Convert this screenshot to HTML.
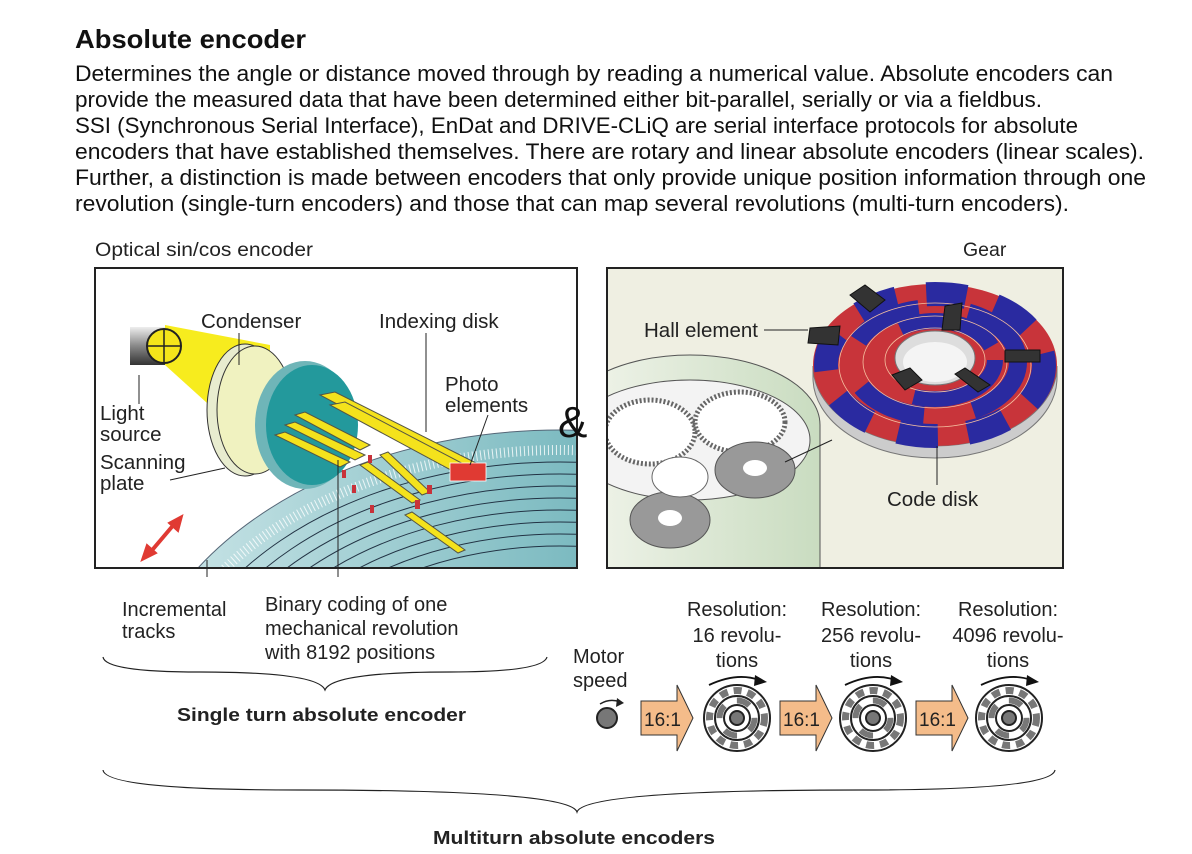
<!DOCTYPE html>
<html><head><meta charset="utf-8"><style>
html,body{margin:0;background:#fff;overflow:hidden;width:1192px;height:854px;}
svg{display:block;font-family:"Liberation Sans",Arial,sans-serif;}
</style></head><body>
<svg width="1192" height="854" viewBox="0 0 1192 854" xmlns="http://www.w3.org/2000/svg">
<defs>
<clipPath id="cl"><rect x="96" y="269" width="480" height="298"/></clipPath>
<clipPath id="cr"><rect x="608" y="269" width="454" height="298"/></clipPath>
<linearGradient id="cyl" x1="0" y1="0" x2="0" y2="1"><stop offset="0" stop-color="#eee"/><stop offset=".5" stop-color="#888"/><stop offset="1" stop-color="#333"/></linearGradient>
<linearGradient id="disk" x1="0" y1="0" x2="1" y2="0"><stop offset="0" stop-color="#d0e8ea"/><stop offset=".5" stop-color="#7fbcc2"/><stop offset="1" stop-color="#238890"/></linearGradient>
<linearGradient id="grn" x1="0" y1="0" x2="1" y2="0"><stop offset="0" stop-color="#f4f6ee"/><stop offset="1" stop-color="#c9dcc0"/></linearGradient>
<g id="cd">
<circle r="33" fill="#fff" stroke="#222" stroke-width="2"/>
<circle r="27.5" fill="none" stroke="#777" stroke-width="7" stroke-dasharray="8 6"/>
<circle r="22" fill="none" stroke="#222" stroke-width="2"/>
<circle r="17.5" fill="none" stroke="#777" stroke-width="6" stroke-dasharray="13.7 13.7"/>
<circle r="13" fill="none" stroke="#222" stroke-width="2"/>
<circle r="7" fill="#777" stroke="#222" stroke-width="2"/>
<path d="M-28 -33 Q0 -46 22 -38" fill="none" stroke="#111" stroke-width="1.8"/>
<path d="M18 -43 L30 -36 L17 -32Z" fill="#111"/>
</g>
<g id="ar"><path d="M0 -17H36V-33L52 0L36 33V17H0Z" fill="#f4bc8a" stroke="#333" stroke-width="1"/><text x="3" y="8" font-size="19" fill="#222">16:1</text></g>
</defs>
<text x="75" y="48" font-size="26" font-weight="bold" fill="#111" textLength="231" lengthAdjust="spacingAndGlyphs">Absolute encoder</text>
<g font-size="22.5" fill="#111">
<text x="75" y="81" textLength="1038" lengthAdjust="spacingAndGlyphs">Determines the angle or distance moved through by reading a numerical value. Absolute encoders can</text>
<text x="75" y="107" textLength="967" lengthAdjust="spacingAndGlyphs">provide the measured data that have been determined either bit-parallel, serially or via a fieldbus.</text>
<text x="75" y="133" textLength="1003" lengthAdjust="spacingAndGlyphs">SSI (Synchronous Serial Interface), EnDat and DRIVE-CLiQ are serial interface protocols for absolute</text>
<text x="75" y="159" textLength="1069" lengthAdjust="spacingAndGlyphs">encoders that have established themselves. There are rotary and linear absolute encoders (linear scales).</text>
<text x="75" y="185" textLength="1071" lengthAdjust="spacingAndGlyphs">Further, a distinction is made between encoders that only provide unique position information through one</text>
<text x="75" y="211" textLength="994" lengthAdjust="spacingAndGlyphs">revolution (single-turn encoders) and those that can map several revolutions (multi-turn encoders).</text>
</g>
<g font-size="19.5" fill="#222">
<text x="95" y="256" textLength="218" lengthAdjust="spacingAndGlyphs">Optical sin/cos encoder</text>
<text x="963" y="256">Gear</text>
</g>
<!-- left image -->
<rect x="95" y="268" width="482" height="300" fill="#fff" stroke="#222" stroke-width="2"/>
<g clip-path="url(#cl)">
<ellipse cx="560" cy="730" rx="430" ry="300" fill="url(#disk)" stroke="#567" stroke-width="1"/>
<ellipse cx="560" cy="730" rx="410" ry="280" fill="none" stroke="#fff" stroke-width="10" stroke-dasharray="1 3" opacity=".8"/>
<g fill="none" stroke="#234" stroke-width="1">
<ellipse cx="560" cy="730" rx="395" ry="268"/><ellipse cx="560" cy="730" rx="380" ry="256"/>
<ellipse cx="560" cy="730" rx="365" ry="244"/><ellipse cx="560" cy="730" rx="350" ry="232"/>
<ellipse cx="560" cy="730" rx="335" ry="220"/><ellipse cx="560" cy="730" rx="320" ry="208"/>
<ellipse cx="560" cy="730" rx="305" ry="196"/><ellipse cx="560" cy="730" rx="290" ry="184"/>
</g>
<path d="M165 325 L270 345 L270 460 L165 365Z" fill="#f7ec1e"/>
<rect x="130" y="327" width="35" height="38" fill="url(#cyl)"/>
<circle cx="164" cy="346" r="17" fill="#f5e51a" stroke="#222" stroke-width="2"/>
<path d="M147 346H181M164 329V363" stroke="#222" stroke-width="1.5"/>
<ellipse cx="245" cy="410" rx="38" ry="66" fill="#e8eccf" stroke="#333"/>
<ellipse cx="255" cy="410" rx="38" ry="64" fill="#f0f2c0" stroke="#333"/>
<ellipse cx="305" cy="425" rx="50" ry="64" fill="#6fb5b8"/>
<ellipse cx="312" cy="425" rx="46" ry="60" fill="#23999c"/>
<g fill="#f4e21c" stroke="#554" stroke-width="1">
<path d="M320 395 L335 392 L480 465 L465 472Z"/><path d="M330 405 L345 402 L475 470 L460 475Z"/>
<path d="M295 415 L305 412 L370 445 L360 450Z"/><path d="M285 425 L295 422 L365 455 L355 460Z"/>
<path d="M275 435 L285 432 L350 462 L340 467Z"/>
<path d="M380 455 L388 452 L430 492 L422 495Z"/><path d="M360 465 L368 462 L420 500 L412 503Z"/>
<path d="M405 515 L412 512 L465 550 L458 553Z"/>
</g>
<rect x="450" y="463" width="36" height="18" fill="#e03a33" stroke="#fff" stroke-width=".8"/>
<g fill="#c8323a"><rect x="368" y="455" width="4" height="8"/><rect x="342" y="470" width="4" height="8"/><rect x="352" y="485" width="4" height="8"/><rect x="370" y="505" width="4" height="8"/><rect x="427" y="485" width="5" height="9"/><rect x="415" y="500" width="5" height="9"/></g>
<path d="M148 555 L176 522" stroke="#e03a33" stroke-width="4"/>
<path d="M142 560 L147 545 L156 553Z M182 516 L178 531 L169 523Z" fill="#e03a33" stroke="#e03a33" stroke-width="2"/>
</g>
<g font-size="20.5" fill="#222">
<text x="201" y="328">Condenser</text><text x="379" y="328">Indexing disk</text>
<text x="445" y="391">Photo</text><text x="445" y="412">elements</text>
<text x="100" y="420">Light</text><text x="100" y="441">source</text>
<text x="100" y="469">Scanning</text><text x="100" y="490">plate</text>
</g>
<g stroke="#222" stroke-width="1" fill="none">
<path d="M239 333V365"/><path d="M426 333V432"/><path d="M488 415L470 465"/><path d="M139 375V404"/><path d="M170 480L225 468"/>
<path d="M207 560V577"/><path d="M338 460V577"/>
</g>
<text x="558" y="437" font-size="44" fill="#111">&amp;</text>
<!-- right image -->
<rect x="607" y="268" width="456" height="300" fill="#efefe2" stroke="#222" stroke-width="2"/>
<g clip-path="url(#cr)">
<path d="M560 425 A130 70 0 0 1 820 425 V570 H560Z" fill="url(#grn)" stroke="#555"/>
<ellipse cx="690" cy="440" rx="120" ry="60" fill="#f3f3f3" stroke="#555"/>
<ellipse cx="650" cy="432" rx="45" ry="32" fill="#fff" stroke="#666" stroke-width="5" stroke-dasharray="2 2"/>
<ellipse cx="740" cy="422" rx="45" ry="30" fill="#fff" stroke="#666" stroke-width="5" stroke-dasharray="2 2"/>
<ellipse cx="755" cy="470" rx="40" ry="28" fill="#999" stroke="#555"/>
<ellipse cx="755" cy="468" rx="12" ry="8" fill="#fff"/>
<ellipse cx="670" cy="520" rx="40" ry="28" fill="#999" stroke="#555"/>
<ellipse cx="670" cy="518" rx="12" ry="8" fill="#fff"/>
<ellipse cx="680" cy="477" rx="28" ry="20" fill="#fff" stroke="#666"/>
<path d="M935 446 A122 80 0 0 0 1057 366 V378 A122 80 0 0 1 813 378 V366 A122 80 0 0 0 935 446Z" fill="#ccc" stroke="#777"/>
<ellipse cx="935" cy="365" rx="122" ry="81" fill="#c8343a"/>
<ellipse cx="935" cy="365" rx="109" ry="71" fill="none" stroke="#2a2aa0" stroke-width="24" stroke-dasharray="40 30"/>
<ellipse cx="935" cy="362" rx="83" ry="54" fill="none" stroke="#2a2aa0" stroke-width="18" stroke-dasharray="70 50"/>
<ellipse cx="935" cy="360" rx="60" ry="39" fill="none" stroke="#2a2aa0" stroke-width="16" stroke-dasharray="100 100"/>
<g fill="none" stroke="#f5c0a0" stroke-width=".8"><ellipse cx="935" cy="365" rx="96" ry="62"/><ellipse cx="935" cy="362" rx="72" ry="46"/><ellipse cx="935" cy="360" rx="50" ry="32"/></g>
<ellipse cx="935" cy="358" rx="40" ry="27" fill="#ddd" stroke="#777"/>
<ellipse cx="935" cy="362" rx="32" ry="20" fill="#f4f4f4"/>
<g fill="#333" stroke="#111">
<path d="M850 295 L865 285 L885 300 L870 312Z"/><path d="M945 306 L962 303 L960 330 L942 330Z"/>
<path d="M810 328 L840 326 L838 345 L808 343Z"/><path d="M1005 350 L1040 350 L1040 362 L1005 362Z"/>
<path d="M892 375 L910 368 L922 380 L905 390Z"/><path d="M955 374 L965 368 L990 385 L978 392Z"/>
</g>
</g>
<g stroke="#222" stroke-width="1" fill="none"><path d="M764 330H808"/><path d="M937 446V485"/><path d="M832 440L785 462"/></g>
<g font-size="20.5" fill="#222"><text x="644" y="337">Hall element</text><text x="887" y="506">Code disk</text></g>
<!-- bottom labels -->
<g font-size="20" fill="#222">
<text x="122" y="616">Incremental</text><text x="122" y="638">tracks</text>
<text x="265" y="611">Binary coding of one</text><text x="265" y="635">mechanical revolution</text><text x="265" y="659">with 8192 positions</text>
<text x="573" y="663">Motor</text><text x="573" y="687">speed</text>
<g text-anchor="middle">
<text x="737" y="616">Resolution:</text><text x="737" y="642">16 revolu-</text><text x="737" y="667">tions</text>
<text x="871" y="616">Resolution:</text><text x="871" y="642">256 revolu-</text><text x="871" y="667">tions</text>
<text x="1008" y="616">Resolution:</text><text x="1008" y="642">4096 revolu-</text><text x="1008" y="667">tions</text>
</g></g>
<g font-size="18.5" font-weight="bold" fill="#222"><text x="177" y="721" textLength="289" lengthAdjust="spacingAndGlyphs">Single turn absolute encoder</text><text x="433" y="844" textLength="282" lengthAdjust="spacingAndGlyphs">Multiturn absolute encoders</text></g>
<g stroke="#222" stroke-width="1.2" fill="none">
<path d="M103 657 Q105 672 200 672 Q318 672 325 690 Q332 672 450 672 Q543 672 547 657"/>
<path d="M103 770 Q105 790 300 790 Q570 790 577 812 Q584 790 860 790 Q1052 790 1055 770"/>
</g>
<circle cx="607" cy="718" r="10" fill="#777" stroke="#222" stroke-width="2"/>
<path d="M600 704 Q610 698 620 702" fill="none" stroke="#222" stroke-width="1.5"/><path d="M617 698 L624 703 L616 707Z" fill="#222"/>
<use href="#ar" x="641" y="718"/><use href="#cd" x="737" y="718"/>
<use href="#ar" x="780" y="718"/><use href="#cd" x="873" y="718"/>
<use href="#ar" x="916" y="718"/><use href="#cd" x="1009" y="718"/>
</svg>
</body></html>
